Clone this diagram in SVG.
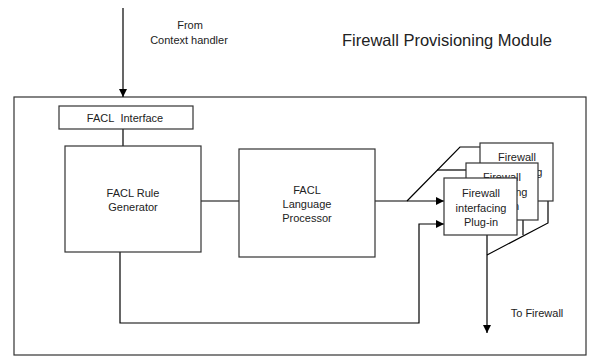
<svg xmlns="http://www.w3.org/2000/svg" width="589" height="356" viewBox="0 0 589 356">
<defs>
<marker id="ah" viewBox="0 0 10 10" refX="10" refY="5" markerWidth="8" markerHeight="8" markerUnits="userSpaceOnUse" orient="auto">
<path d="M0,0 L10,5 L0,10 z" fill="#000"/>
</marker>
<style>
.box{fill:#fff;stroke:#333;stroke-width:1.2}
.ln{fill:none;stroke:#000;stroke-width:1.2}
text{font-family:"Liberation Sans",Arial,sans-serif;font-size:11px;fill:#222;text-anchor:middle}
.title{font-size:16.5px}
</style>
</defs>
<rect width="589" height="356" fill="#fff"/>
<g id="module">
<rect class="box" x="14" y="97" width="572" height="258"/>
</g>
<g id="title"><text class="title" x="447" y="46">Firewall Provisioning Module</text></g>
<g id="from-label">
<text x="190" y="29">From</text>
<text x="189" y="44">Context handler</text>
</g>
<g id="to-label"><text x="537" y="317">To Firewall</text></g>
<g id="connectors">
<line class="ln" x1="123" y1="8" x2="123" y2="97" marker-end="url(#ah)"/>
<line class="ln" x1="123" y1="129" x2="123" y2="146"/>
<line class="ln" x1="201" y1="201" x2="239" y2="201"/>
<line class="ln" x1="375" y1="201" x2="444" y2="201" marker-end="url(#ah)"/>
<polyline class="ln" points="407,201 460,147 480,147"/>
<line class="ln" x1="437" y1="170" x2="466" y2="170"/>
<polyline class="ln" points="120,252 120,323 419,323 419,224 444,224" marker-end="url(#ah)"/>
<line class="ln" x1="523" y1="220" x2="523" y2="235"/>
<polyline class="ln" points="548,201 548,223 487,255"/>
<line class="ln" x1="487" y1="235" x2="487" y2="333" marker-end="url(#ah)"/>
</g>
<g id="facl-interface">
<rect class="box" x="59" y="106" width="134" height="23"/>
<text x="125" y="122">FACL&#160; Interface</text>
</g>
<g id="rule-generator">
<rect class="box" x="65" y="146" width="136" height="106"/>
<text x="133" y="197">FACL Rule</text>
<text x="133" y="211">Generator</text>
</g>
<g id="language-processor">
<rect class="box" x="239" y="149" width="136" height="108"/>
<text x="307" y="194">FACL</text>
<text x="307" y="208">Language</text>
<text x="307" y="222">Processor</text>
</g>
<g id="plugin-3">
<rect class="box" x="480" y="143" width="73" height="58"/>
<text x="517" y="161">Firewall</text>
<text x="517" y="176">interfacing</text>
<text x="517" y="190">Plug-in</text>
</g>
<g id="plugin-2">
<rect class="box" x="466" y="163" width="72" height="57"/>
<text x="502" y="181">Firewall</text>
<text x="502" y="196">interfacing</text>
<text x="502" y="210">Plug-in</text>
</g>
<g id="plugin-1">
<rect class="box" x="444" y="178" width="73" height="57"/>
<text x="481" y="197">Firewall</text>
<text x="481" y="212">interfacing</text>
<text x="481" y="226">Plug-in</text>
</g>
</svg>
